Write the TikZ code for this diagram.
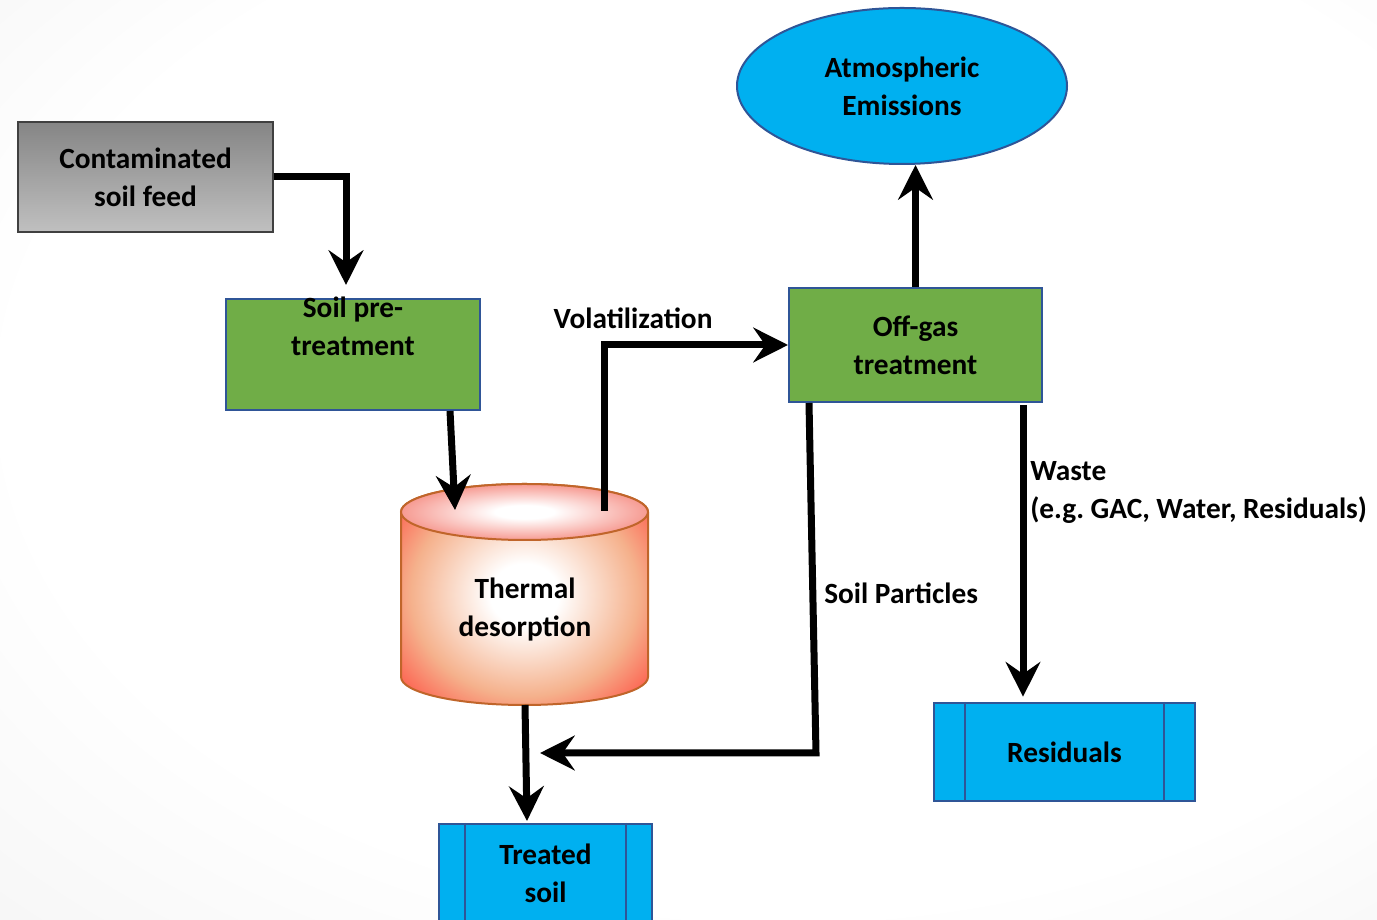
\documentclass[tikz,border=0pt]{standalone}
\usepackage{fontspec}
\setmainfont{Carlito}
\frenchspacing
\usetikzlibrary{arrows.meta,shapes.geometric,calc}
\definecolor{boxgreen}{HTML}{70AD47}
\definecolor{boxblue}{HTML}{00B0F0}
\definecolor{edgeblue}{HTML}{2F5597}
\definecolor{cylb}{HTML}{C0652A}
\definecolor{cylpeach}{HTML}{F5B18C}
\definecolor{cylred}{HTML}{FF4C40}
\definecolor{toppink}{HTML}{F6958C}
\definecolor{graytop}{HTML}{858585}
\definecolor{graybot}{HTML}{C0C0C0}
\definecolor{bggray}{HTML}{EDEDED}
\newcommand\pxu{0.75pt}
\pgfdeclareradialshading{cylshade}{\pgfpoint{0bp}{0bp}}{color(0bp)=(white); color(7bp)=(white); color(23bp)=(cylpeach); color(35bp)=(cylred); color(50bp)=(cylred)}
\pgfdeclareradialshading{topshade}{\pgfpoint{0bp}{0bp}}{color(0bp)=(white); color(6bp)=(white); color(26bp)=(toppink); color(50bp)=(toppink)}
\pgfdeclareradialshading{bgshade}{\pgfpoint{8bp}{8bp}}{color(0bp)=(white); color(28bp)=(white); color(50bp)=(bggray)}
\tikzset{
  lbl/.style={font=\fontsize{22}{28.5}\selectfont\bfseries, align=center, inner sep=0pt},
  procbox/.style={rectangle, lbl, line width=1.5pt, draw=edgeblue},
  greenbox/.style={procbox, fill=boxgreen},
  bluebox/.style={procbox, fill=boxblue},
  graybox/.style={rectangle, lbl, draw=black!75, line width=0.8pt, top color=graytop, bottom color=graybot},
  arr/.style={line width=5.25pt, line join=miter, -{Stealth[length=26pt, width=26pt, inset=9pt]}},
  inner/.style={draw=edgeblue, line width=1.5pt}
}
\begin{document}
\begin{tikzpicture}[x=0.75pt,y=0.75pt]
\useasboundingbox (0,0) rectangle (1377,920);
\shade[shading=bgshade] (0,0) rectangle (1377,920);

% nodes
\node[graybox, minimum width=255*\pxu, minimum height=110*\pxu] (feed) at (145.5,743) {Contaminated\\soil feed};
\node[greenbox, minimum width=254*\pxu, minimum height=111*\pxu] (pre) at (353,565.5) {};
\node[lbl] (pretxt) at (353,594) {Soil pre-\\treatment};
\node[greenbox, minimum width=253*\pxu, minimum height=114*\pxu] (off) at (915.5,575) {Off-gas\\treatment};
\node[ellipse, draw=edgeblue, fill=boxblue, line width=1.5pt, lbl, minimum width=330*\pxu, minimum height=156*\pxu] (em) at (902,834) {Atmospheric\\Emissions};
\node[bluebox, minimum width=261*\pxu, minimum height=98*\pxu] (res) at (1064.5,168) {Residuals};
\draw[inner] ($(res.north west)+(32,0)$) -- ($(res.south west)+(32,0)$);
\draw[inner] ($(res.north east)+(-32,0)$) -- ($(res.south east)+(-32,0)$);
\node[bluebox, minimum width=213*\pxu, minimum height=110*\pxu, text depth=8pt] (treated) at (545.5,41) {Treated\\soil};
\draw[inner] ($(treated.north west)+(27,0)$) -- ($(treated.south west)+(27,0)$);
\draw[inner] ($(treated.north east)+(-27,0)$) -- ($(treated.south east)+(-27,0)$);

% cylinder
\shade[shading=cylshade, draw=cylb, line width=1.5pt] (401,408) -- (401,243) arc[start angle=180, end angle=360, x radius=92.625pt, y radius=21pt] -- (648,408) arc[start angle=0, end angle=180, x radius=92.625pt, y radius=21pt] -- cycle;
\shade[shading=topshade, draw=cylb, line width=1.5pt] (524.5,408) ellipse [x radius=92.625pt, y radius=21pt];
\node[lbl] (td) at (525,310) {Thermal\\desorption};

% coordinates
\coordinate (a1) at (346,635);
\coordinate (a2s) at ($(pre.south)+(97,0)$);
\coordinate (a2e) at (455,410);
\coordinate (v0) at (604,409);
\coordinate (sp0) at ($(off.south west)+(21,0)$);
\coordinate (spc) at (816,167);
\coordinate (spe) at (540,167);
\coordinate (w0) at ($(off.south east)+(-20,-2)$);
\coordinate (t0) at (525,215);
\coordinate (t1) at ($(treated.north)+(-18.5,2)$);

% connectors
\draw[arr] (feed.east) -| (a1);
\draw[arr] (a2s) -- (a2e);
\draw[arr] (v0) |- (off.west);
\draw[arr] (off.north) -- (off.north |- em.south);
\draw[arr] (sp0) -- (spc) -- (spe);
\draw[arr, shorten >=4pt] (w0) -- (w0 |- res.north);
\draw[arr] (t0) -- (t1);

% labels
\node[lbl] (vol) at (633,602) {Volatilization};
\node[lbl, anchor=west] (sp) at (824,327) {Soil Particles};
\node[lbl, anchor=west, align=left] (waste) at (1030,427.5) {Waste\\(e.g. GAC, Water, Residuals)};
\end{tikzpicture}
\end{document}
